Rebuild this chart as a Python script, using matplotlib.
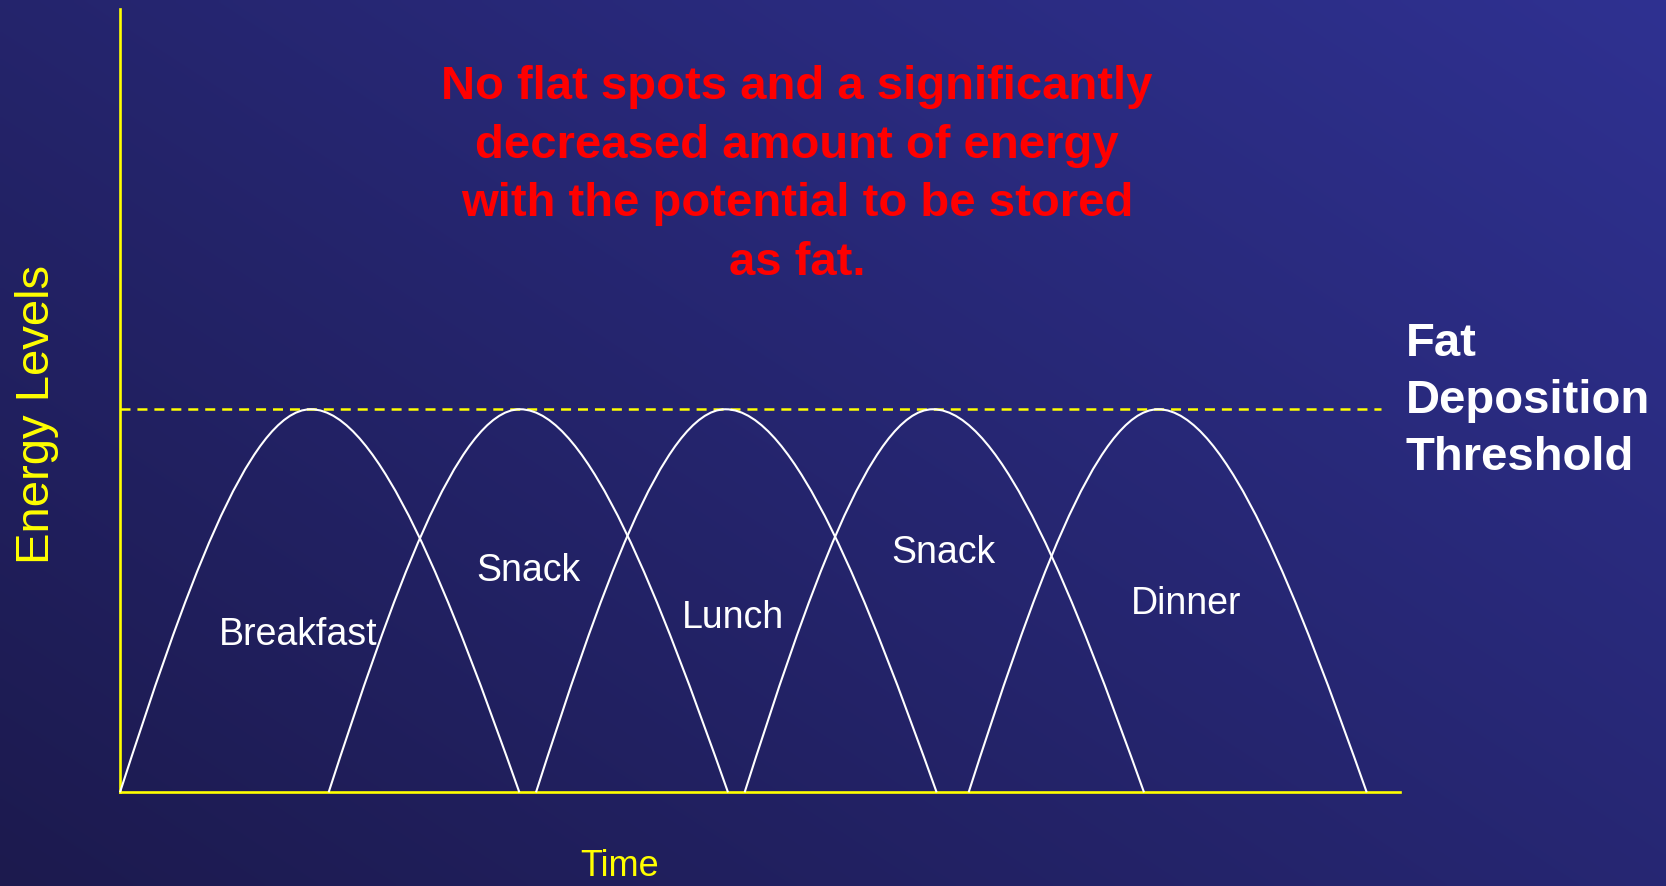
import numpy as np
import matplotlib
matplotlib.use("Agg")
import matplotlib.pyplot as plt
from matplotlib.path import Path
from matplotlib.patches import PathPatch

plt.rcParams['font.family'] = ['Liberation Sans', 'DejaVu Sans']
plt.rcParams['lines.scale_dashes'] = False

# Meals: start, peak, end on a 0-100 time scale
meals = ["Breakfast", "Snack", "Lunch", "Snack", "Dinner"]
starts = [0.0, 16.3, 32.5, 48.8, 66.3]
peaks = [14.9, 31.25, 47.3, 63.5, 81.1]
ends = [31.2, 47.5, 63.8, 80.0, 97.4]
peak_level = 48.9
threshold = 48.9
threshold_end = 98.5

# Where each meal name sits (time, energy)
label_x = [13.9, 31.9, 47.9, 64.3, 83.3]
label_y = [20.1, 28.3, 22.3, 30.5, 24.1]

title_lines = ["No flat spots and a significantly",
               "decreased amount of energy",
               "with the potential to be stored",
               "as fat."]
side_lines = ["Fat", "Deposition", "Threshold"]

W, H = 1666, 886
fig = plt.figure(figsize=(W / 100, H / 100), dpi=100)

# background gradient, darker bottom-left to brighter top-right
bg = fig.add_axes([0, 0, 1, 1])
bg.set_axis_off()
gx, gy = np.meshgrid(np.linspace(0, 1, 400), np.linspace(1, 0, 200))
t = (gx * 0.55 + gy * 0.45)
c0 = np.array([28, 26, 78]) / 255
c1 = np.array([47, 49, 145]) / 255
img = c0[None, None, :] * (1 - t[..., None]) + c1[None, None, :] * t[..., None]
bg.imshow(img, aspect='auto', extent=[0, 1, 0, 1], interpolation='bilinear')
bg.set_xlim(0, 1)
bg.set_ylim(0, 1)

ax = fig.add_axes([120 / W, (H - 792.3) / H, 1280 / W, 783.3 / H])
ax.patch.set_alpha(0)
ax.set_xlim(0, 100)
ax.set_ylim(0, 100)
ax.set_xticks([])
ax.set_yticks([])
for side in ['top', 'right']:
    ax.spines[side].set_visible(False)
for side in ['left', 'bottom']:
    ax.spines[side].set_color('#ffff00')
    ax.spines[side].set_linewidth(1.9)

# threshold line
ax.plot([0, threshold_end], [threshold, threshold], color='#ffff00',
        lw=1.8, dashes=(7.2, 5.0), zorder=2)

# energy curves as bezier arcs
for s, p, e in zip(starts, peaks, ends):
    w1 = p - s
    w2 = e - p
    verts = [(s, 0),
             (s + 0.326 * w1, 0.5 * peak_level),
             (s + 0.67 * w1, peak_level),
             (p, peak_level),
             (p + 0.33 * w2, peak_level),
             (p + 0.674 * w2, 0.5 * peak_level),
             (e, 0)]
    codes = [Path.MOVETO] + [Path.CURVE4] * 6
    ax.add_patch(PathPatch(Path(verts, codes), fill=False, edgecolor='white',
                           lw=1.5, zorder=3, clip_on=False))

for name, x, y in zip(meals, label_x, label_y):
    ax.text(x, y, name, color='white', fontsize=27, ha='center', va='center')

fig.text(37 / W, 1 - 414 / H, "Energy Levels", color='#ffff00', fontsize=34,
         rotation=90, ha='center', va='center')
fig.text(620 / W, 1 - 866 / H, "Time", color='#ffff00', fontsize=26,
         ha='center', va='center')

fig.text(797 / W, 1 - 175 / H, "\n".join(title_lines), color='#ff0000',
         fontsize=34, fontweight='bold', ha='center', va='center',
         linespacing=1.43)

fig.text(1406 / W, 1 - 401 / H, "\n".join(side_lines), color='white',
         fontsize=34, fontweight='bold', ha='left', va='center',
         linespacing=1.38)

fig.savefig('out.png', dpi=100)
